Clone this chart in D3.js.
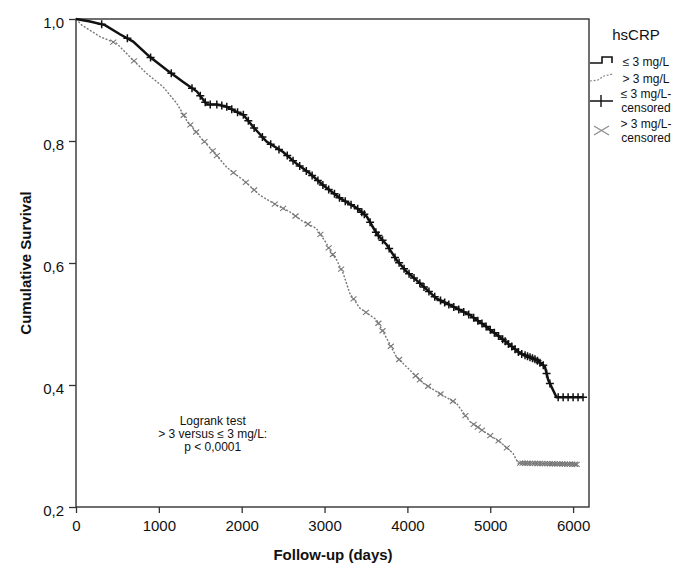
<!DOCTYPE html>
<html>
<head>
<meta charset="utf-8">
<script src="https://cdn.jsdelivr.net/npm/d3@7"></script>
<style>
  body { margin: 0; background: #fff; }
  text { font-family: "Liberation Sans", Arial, sans-serif; fill: #111; }
  .tick-label { font-size: 15px; }
  .axis-title { font-size: 15px; font-weight: bold; }
  .legend-text { font-size: 12px; }
  .note { font-size: 12px; }
</style>
</head>
<body>
<svg id="chart"></svg>
<script>
// hsCRP <= 3 mg/L
const lowTime = [0, 170, 350, 530, 690, 890, 1100, 1290, 1460, 1580, 1700, 1820, 1980, 2020, 2140, 2300, 2500, 2660, 2820, 2980, 3190, 3390, 3470, 3510, 3630, 3750, 3870, 3990, 4150, 4350, 4590, 4750, 4950, 5160, 5360, 5560, 5660, 5700, 5800, 6120];
const lowSurv = [1.0, 0.996, 0.990, 0.975, 0.963, 0.938, 0.916, 0.897, 0.881, 0.860, 0.860, 0.856, 0.845, 0.843, 0.823, 0.799, 0.782, 0.763, 0.747, 0.728, 0.706, 0.690, 0.681, 0.676, 0.648, 0.630, 0.605, 0.586, 0.567, 0.542, 0.526, 0.515, 0.496, 0.474, 0.452, 0.441, 0.430, 0.408, 0.380, 0.380];
const lowCensor = [310, 620, 900, 1150, 1400, 1500, 1560, 1620, 1700, 1760, 1820, 1880, 1950, 2020, 2080, 2150, 2250, 2350, 2450, 2550, 2620, 2700, 2780, 2850, 2920, 2980, 3050, 3120, 3180, 3250, 3320, 3400, 3450, 3480, 3550, 3620, 3650, 3700, 3780, 3850, 3900, 3960, 4020, 4080, 4150, 4200, 4260, 4330, 4400, 4450, 4500, 4560, 4620, 4680, 4740, 4800, 4850, 4900, 4950, 5000, 5050, 5100, 5150, 5180, 5220, 5260, 5300, 5340, 5380, 5420, 5450, 5480, 5510, 5540, 5570, 5600, 5640, 5680, 5720, 5820, 5880, 5940, 6000, 6060, 6120];

// hsCRP > 3 mg/L
const highTime = [0, 70, 290, 490, 650, 850, 1050, 1215, 1335, 1496, 1656, 1818, 1938, 2020, 2220, 2420, 2580, 2740, 2900, 3024, 3064, 3145, 3225, 3305, 3426, 3627, 3748, 3868, 3989, 4190, 4391, 4592, 4753, 4954, 5115, 5275, 5336, 6043];
const highSurv = [1.0, 0.990, 0.971, 0.960, 0.938, 0.911, 0.889, 0.862, 0.834, 0.807, 0.783, 0.757, 0.744, 0.736, 0.711, 0.695, 0.684, 0.668, 0.657, 0.632, 0.621, 0.605, 0.583, 0.550, 0.526, 0.507, 0.477, 0.446, 0.430, 0.403, 0.386, 0.370, 0.340, 0.321, 0.307, 0.288, 0.272, 0.270];
const highCensor = [450, 700, 1300, 1380, 1450, 1550, 1650, 1700, 1900, 2050, 2150, 2400, 2500, 2650, 2800, 2950, 3050, 3100, 3200, 3350, 3500, 3650, 3700, 3800, 3900, 4100, 4150, 4250, 4400, 4550, 4700, 4800, 4850, 4900, 5000, 5100, 5200, 5360, 5390, 5420, 5450, 5480, 5510, 5540, 5570, 5600, 5630, 5660, 5690, 5720, 5750, 5780, 5810, 5840, 5870, 5900, 5930, 5960, 5990, 6020, 6043];

const xTicks = [0, 1000, 2000, 3000, 4000, 5000, 6000];
const yTicks = [0.2, 0.4, 0.6, 0.8, 1.0];
const legendLabels = [["≤ 3 mg/L"], ["> 3 mg/L"], ["≤ 3 mg/L-", "censored"], ["> 3 mg/L-", "censored"]];
const noteLines = ["Logrank test", "> 3 versus  ≤ 3 mg/L:", "p < 0,0001"];

const W = 689, H = 565;
const margin = {top: 19, right: 100, bottom: 58, left: 76};
const width = W - margin.left - margin.right,
      height = H - margin.top - margin.bottom;

const svg = d3.select("#chart").attr("width", W).attr("height", H);
const g = svg.append("g").attr("transform", `translate(${margin.left},${margin.top})`);

const x = d3.scaleLinear().domain([0, 6192]).range([0, width]);
const y = d3.scaleLinear().domain([0.2, 1.0]).range([height, 0]);
const fmt = d => d3.format(".1f")(d).replace(".", ",");

// frame
g.append("rect")
    .attr("width", width).attr("height", height)
    .attr("fill", "none").attr("stroke", "#333").attr("stroke-width", 1.4);

const xAxis = g.append("g")
    .attr("transform", `translate(0,${height})`)
    .call(d3.axisBottom(x).tickValues(xTicks).tickSize(6).tickPadding(7).tickFormat(d3.format("d")));
const yAxis = g.append("g")
    .call(d3.axisLeft(y).tickValues(yTicks).tickSize(7).tickPadding(5).tickFormat(fmt));
[xAxis, yAxis].forEach(a => {
    a.select(".domain").remove();
    a.selectAll("line").attr("stroke", "#333").attr("stroke-width", 1.3);
    a.selectAll("text").attr("class", "tick-label").attr("fill", "#111")
        .style("font-family", '"Liberation Sans", Arial, sans-serif').style("font-size", "15px");
});
yAxis.selectAll("text").attr("dy", "0.55em");

// curves
const lowData = lowTime.map((t, i) => ({t: t, s: lowSurv[i]}));
const highData = highTime.map((t, i) => ({t: t, s: highSurv[i]}));
const line = d3.line().x(d => x(d.t)).y(d => y(d.s));

g.append("path").datum(highData)
    .attr("d", line)
    .attr("fill", "none").attr("stroke", "#777").attr("stroke-width", 1.4)
    .attr("stroke-dasharray", "2,1.6");

g.append("path").datum(lowData)
    .attr("d", line)
    .attr("fill", "none").attr("stroke", "#111").attr("stroke-width", 2.5);

// censor marks placed on their curve
const survAt = (times, survs) => t => {
    const i = d3.bisectRight(times, t) - 1;
    if (i >= times.length - 1) return survs[survs.length - 1];
    const f = (t - times[i]) / (times[i + 1] - times[i]);
    return survs[i] + f * (survs[i + 1] - survs[i]);
};
const lowAt = survAt(lowTime, lowSurv);
const highAt = survAt(highTime, highSurv);

g.selectAll(".cens-high")
    .data(highCensor)
    .enter().append("path")
    .attr("class", "cens-high")
    .attr("transform", d => `translate(${x(d)},${y(highAt(d))})`)
    .attr("d", "M-3,-2.5L3,2.5M-3,2.5L3,-2.5")
    .attr("stroke", "#777").attr("stroke-width", 1.1).attr("fill", "none");

g.selectAll(".cens-low")
    .data(lowCensor)
    .enter().append("path")
    .attr("class", "cens-low")
    .attr("transform", d => `translate(${x(d)},${y(lowAt(d))})`)
    .attr("d", "M-4,0L4,0M0,-4L0,4")
    .attr("stroke", "#111").attr("stroke-width", 1.5).attr("fill", "none");

// axis titles
svg.append("text")
    .attr("class", "axis-title")
    .attr("x", 333).attr("y", 560)
    .attr("text-anchor", "middle")
    .text("Follow-up (days)");
svg.append("text")
    .attr("class", "axis-title")
    .attr("transform", "translate(31,263) rotate(-90)")
    .attr("text-anchor", "middle")
    .text("Cumulative Survival");

// logrank note
g.append("text")
    .attr("class", "note")
    .attr("text-anchor", "middle")
    .selectAll("tspan")
    .data(noteLines)
    .enter().append("tspan")
    .attr("x", x(1650)).attr("y", (d, i) => 406 + i * 13)
    .text(d => d);

// legend
const lg = svg.append("g").attr("transform", `translate(${margin.left + width},0)`);
lg.append("text").attr("x", 47).attr("y", 40)
    .attr("text-anchor", "middle").style("font-size", "15px").text("hsCRP");

const legendY = [62, 79, 101, 131];
legendLabels.forEach((lines, i) => {
    lg.append("text")
        .attr("class", "legend-text")
        .attr("text-anchor", "middle")
        .selectAll("tspan")
        .data(lines)
        .enter().append("tspan")
        .attr("x", 57).attr("y", (d, j) => legendY[i] + 4 + j * 13.5 - (lines.length > 1 ? 7 : 0))
        .text(d => d);
});
lg.append("path")
    .attr("d", `M1,${legendY[0] + 1}H13V${legendY[0] - 5}H23V${legendY[0] + 1}`)
    .attr("fill", "none").attr("stroke", "#111").attr("stroke-width", 1.6);
lg.append("path")
    .attr("d", `M1,${legendY[1] + 2}L9,${legendY[1] + 1}L15,${legendY[1] - 3}L24,${legendY[1] - 5}`)
    .attr("fill", "none").attr("stroke", "#888").attr("stroke-width", 1.2).attr("stroke-dasharray", "2,1.6");
lg.append("path")
    .attr("d", `M1,${legendY[2]}H24M12,${legendY[2] - 6}V${legendY[2] + 6}`)
    .attr("fill", "none").attr("stroke", "#111").attr("stroke-width", 1.4);
lg.append("path")
    .attr("d", `M5,${legendY[3] - 5}L20,${legendY[3] + 4}M5,${legendY[3] + 4}L20,${legendY[3] - 5}`)
    .attr("fill", "none").attr("stroke", "#888").attr("stroke-width", 1.1);
</script>
</body>
</html>
